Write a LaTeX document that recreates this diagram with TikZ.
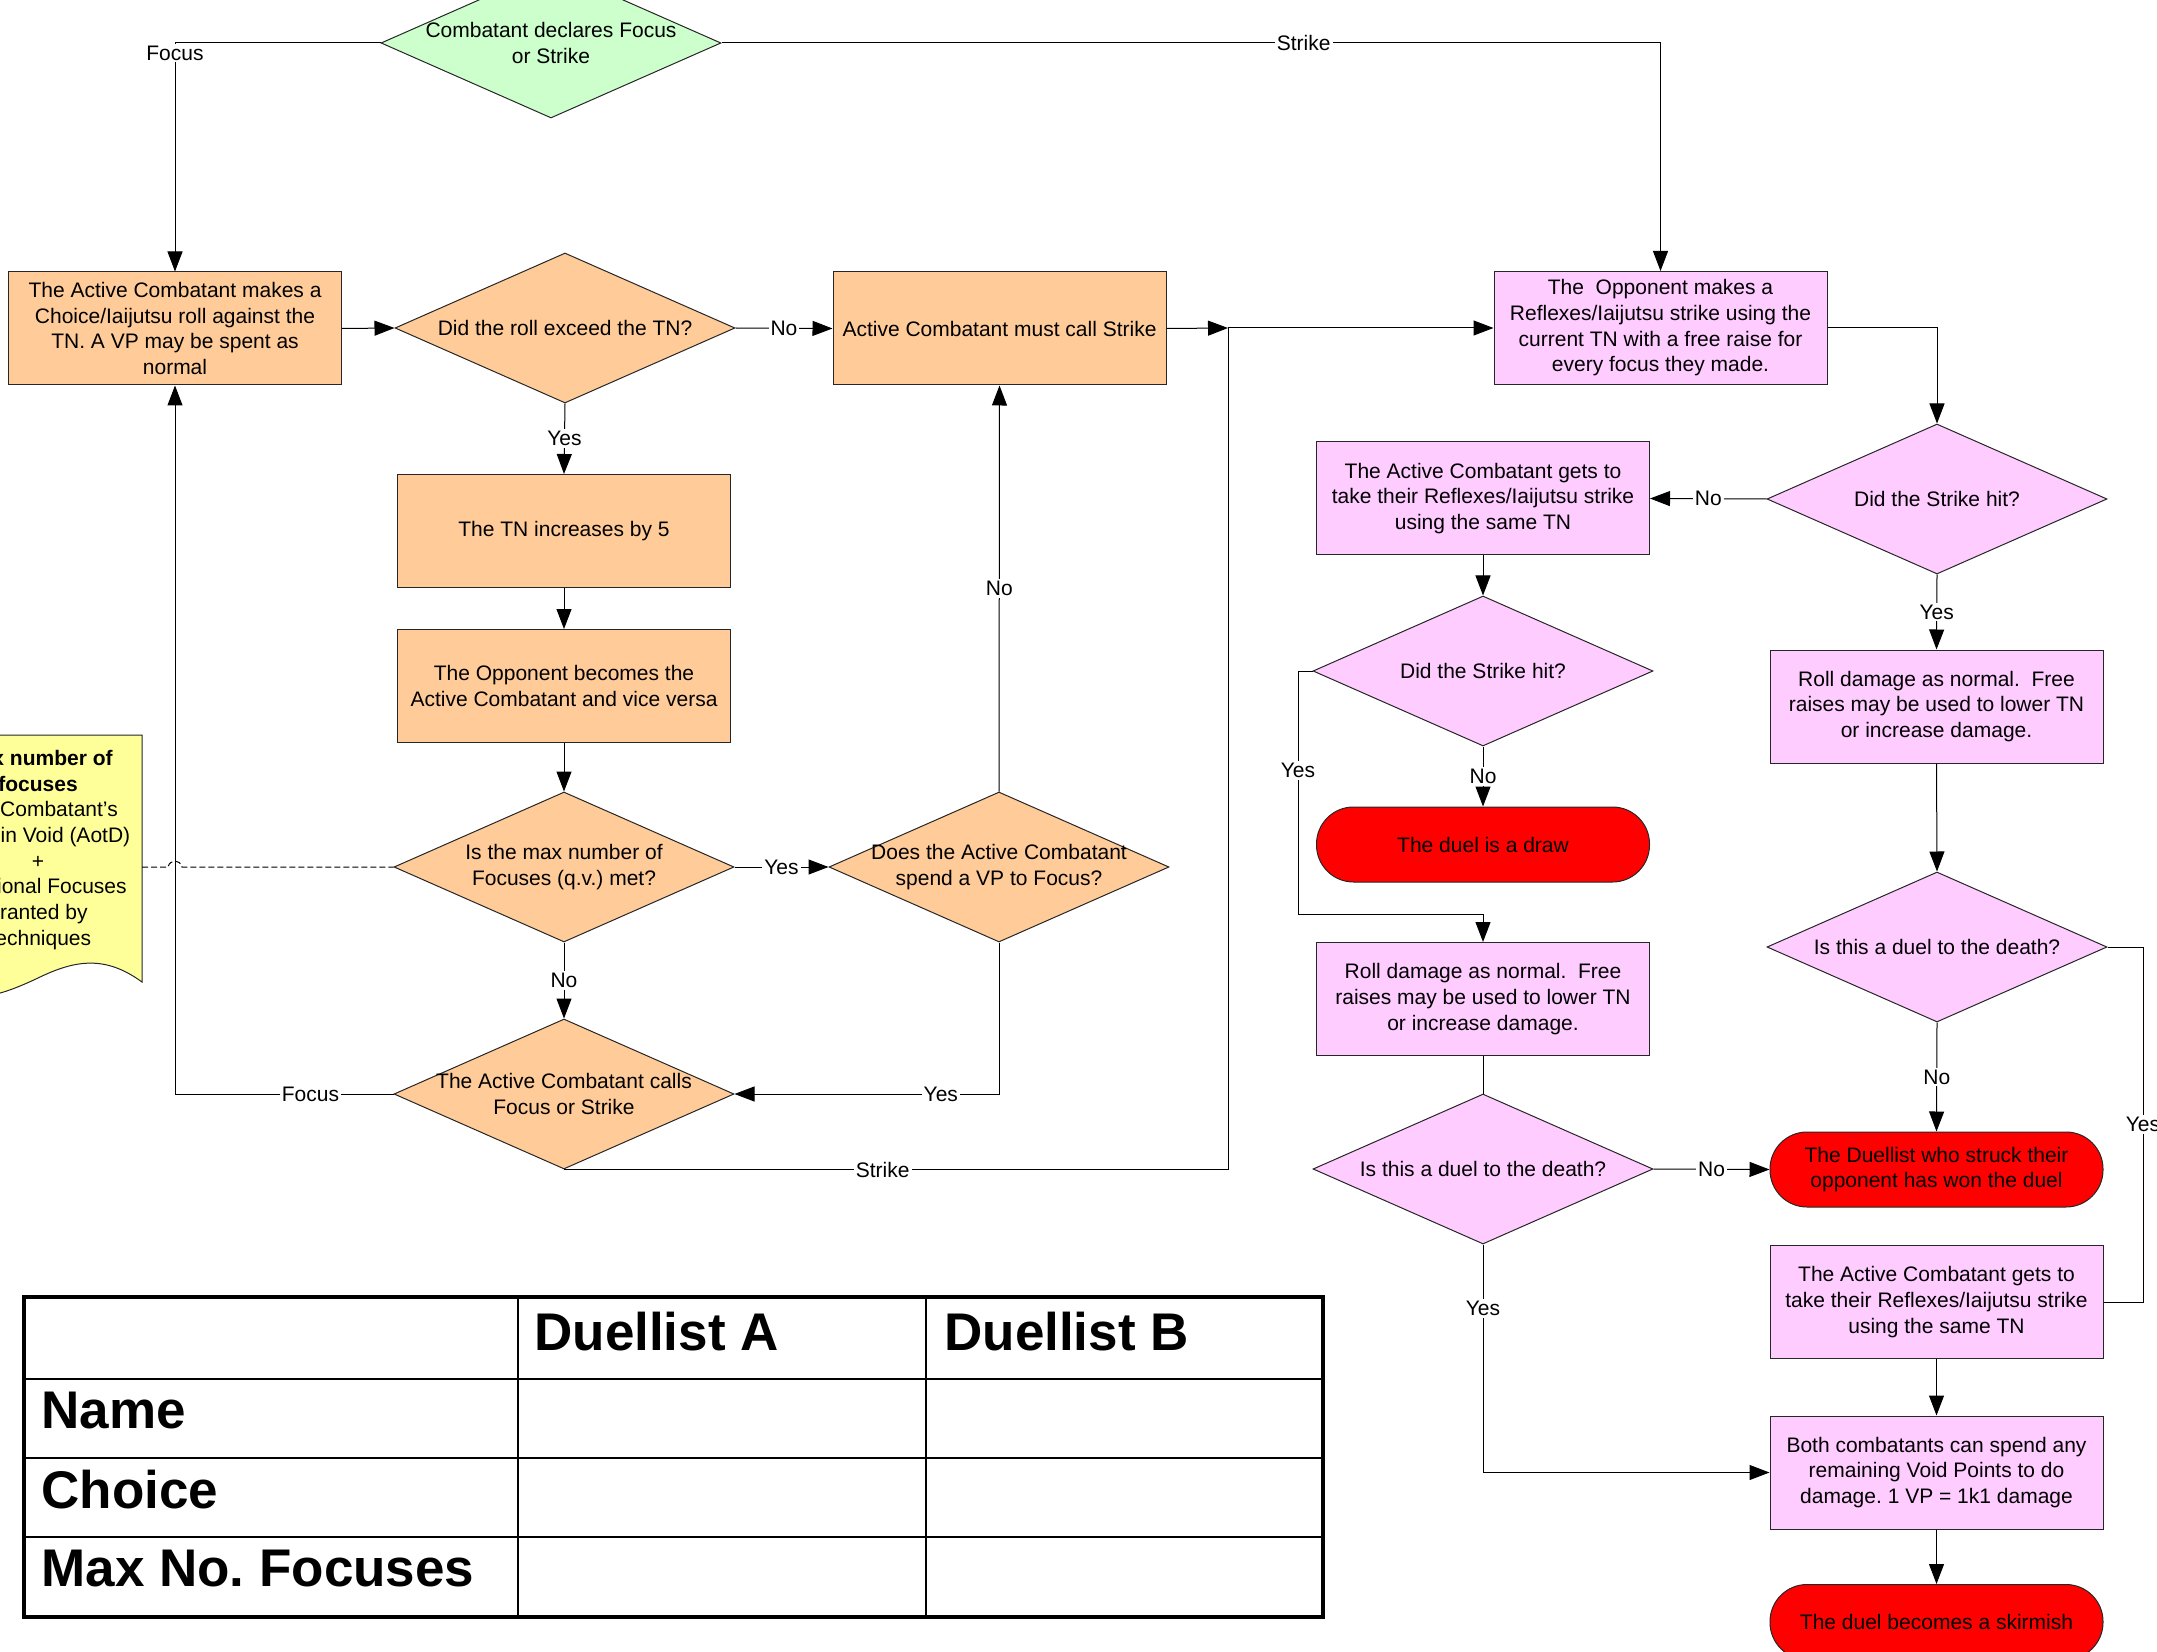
\documentclass[tikz,border=0pt]{standalone}
\usepackage{fontspec}
\setmainfont{Liberation Sans}
\usetikzlibrary{shapes.geometric,arrows.meta}
\definecolor{orng}{RGB}{255,204,153}
\definecolor{pnk}{RGB}{255,204,255}
\definecolor{grn}{RGB}{204,255,204}
\definecolor{ylw}{RGB}{255,255,153}
\definecolor{tred}{RGB}{255,0,0}
\newcommand\Dia[4]{\node[dia,fill=#3] (#1) at (#2) {}; \node[dtxt] (#1t) at (#1) {#4};}
\frenchspacing
\begin{document}
\begin{tikzpicture}[x=0.5pt,y=-0.5pt,
 txt/.style={font=\fontsize{10.5}{12.85}\selectfont, align=center},
 box/.style={txt, draw=black!85, line width=0.5pt, minimum width=166.5pt, minimum height=56.5pt, inner sep=2pt},
 dia/.style={diamond, draw=black!85, line width=0.5pt, minimum width=170pt, minimum height=75pt, inner sep=0pt},
 dtxt/.style={txt, inner sep=0pt},
 term/.style={txt, draw=black!85, line width=0.5pt, fill=tred, rounded corners=18.5pt, minimum width=166.5pt, minimum height=37.5pt},
 conn/.style={line width=0.5pt, draw=black},
 arr/.style={conn, -{Triangle[length=10pt,width=7.5pt]}},
 lbl/.style={txt, fill=white, inner sep=1pt},
 tbl/.style={font=\bfseries\fontsize{26.5}{30}\selectfont, anchor=base west, inner sep=0pt}
 ]
\useasboundingbox (0,0) rectangle (2157,1652);

% note
\filldraw[fill=ylw, draw=black!85, line width=0.5pt] (-66,735) -- (142,735) -- (142,982)
  .. controls (105,955) and (75,960) .. (38,978)
  .. controls (0,996) and (-30,1005) .. (-66,990) -- cycle;
\node[txt] (note) at (38,850) {\textbf{Max number of}\\\textbf{focuses}\\The Combatant’s\\Rank in Void (AotD)\\+\\Additional Focuses\\granted by\\Techniques};
\coordinate (nr) at (142,867);

% nodes
\Dia{d0}{551,43}{grn}{Combatant declares Focus\\or Strike}
\node[box, fill=orng] (b1) at (175,328.5) {The Active Combatant makes a\\Choice/Iaijutsu roll against the\\TN. A VP may be spent as\\normal};
\Dia{d1}{565,328}{orng}{Did the roll exceed the TN?}
\node[box, fill=orng] (b2) at (999.5,328.5) {Active Combatant must call Strike};
\coordinate (J) at (1228,328);
\node[box, fill=pnk] (b3) at (1660.5,328) {The\ \ Opponent makes a\\Reflexes/Iaijutsu strike using the\\current TN with a free raise for\\every focus they made.};
\Dia{d2}{1937,499}{pnk}{Did the Strike hit?}
\node[box, fill=pnk] (b4) at (1483,498.5) {The Active Combatant gets to\\take their Reflexes/Iaijutsu strike\\using the same TN};
\node[box, fill=pnk] (b5) at (1936.5,706.5) {Roll damage as normal.\ \ Free\\raises may be used to lower TN\\or increase damage.};
\Dia{d3}{1483,671}{pnk}{Did the Strike hit?}
\node[term] (t1) at (1483,844.5) {The duel is a draw};
\node[box, fill=pnk] (b6) at (1483,999) {Roll damage as normal.\ \ Free\\raises may be used to lower TN\\or increase damage.};
\Dia{d4}{1483,1169}{pnk}{Is this a duel to the death?}
\node[term] (t2) at (1936.5,1169.5) {The Duellist who struck their\\opponent has won the duel};
\Dia{d5}{1937,947}{pnk}{Is this a duel to the death?}
\node[box, fill=pnk] (b7) at (1936.5,1302) {The Active Combatant gets to\\take their Reflexes/Iaijutsu strike\\using the same TN};
\node[box, fill=pnk] (b8) at (1936.5,1472.5) {Both combatants can spend any\\remaining Void Points to do\\damage. 1 VP = 1k1 damage};
\node[term] (t3) at (1936.5,1622) {The duel becomes a skirmish};
\node[box, fill=orng] (b9) at (564,531) {The TN increases by 5};
\node[box, fill=orng] (b10) at (564,686) {The Opponent becomes the\\Active Combatant and vice versa};
\Dia{d6}{564,867}{orng}{Is the max number of\\Focuses (q.v.) met?}
\Dia{d7}{999,867}{orng}{Does the Active Combatant\\spend a VP to Focus?}
\Dia{d8}{564,1094}{orng}{The Active Combatant calls\\Focus or Strike}

% connectors
\draw[arr] (d0.west) -| node[lbl,pos=0.5,yshift=-5pt]{Focus} (b1.north);
\draw[arr] (d0.east) -| node[lbl,pos=0.31]{Strike} (b3.north);
\draw[arr] (b1.east) -- (d1.west);
\draw[arr] (d1.east) -- node[lbl]{No} (b2.west);
\draw[arr] (b2.east) -- (J);
\draw[arr] (J) -- (b3.west);
\draw[arr] (d1.south) -- node[lbl]{Yes} (b9.north);
\draw[arr] (b9.south) -- (b10.north);
\draw[arr] (b10.south) -- (d6.north);
\draw[arr] (d6.east) -- node[lbl]{Yes} (d7.west);
\draw[arr] (d7.north) -- node[lbl]{No} (b2.south);
\draw[arr] (d7.south) |- node[lbl,pos=0.61]{Yes} (d8.east);
\draw[arr] (d6.south) -- node[lbl]{No} (d8.north);
\draw[arr] (d8.west) -| node[lbl,pos=0.19]{Focus} (b1.south);
\draw[conn] (d8.south) -| node[lbl,pos=0.24]{Strike} (J);
\draw[arr] (b3.east) -| (d2.north);
\draw[arr] (d2.west) -- node[lbl]{No} (b4.east);
\draw[arr] (d2.south) -- node[lbl]{Yes} (b5.north);
\draw[arr] (b4.south) -- (d3.north);
\draw[arr] (d3.south) -- node[lbl]{No} (t1.north);
\draw[arr] (d3.west) -- (1298,671) -- node[lbl,pos=0.41]{Yes} (1298,914) -| (b6.north);
\draw[conn] (b6.south) -- (d4.north);
\draw[arr] (d4.east) -- node[lbl]{No} (t2.west);
\draw[arr] (d4.south) |- node[lbl,pos=0.14]{Yes} (b8.west);
\draw[arr] (b5.south) -- (d5.north);
\draw[arr] (d5.south) -- node[lbl]{No} (t2.north);
\draw[conn] (d5.east) -- (2143,947) -- node[lbl]{Yes} (2143,1302) -- (b7.east);
\draw[arr] (b7.south) -- (b8.north);
\draw[arr] (b8.south) -- (t3.north);
\draw[conn, dash pattern=on 3pt off 1.5pt] (nr) -- (168,867) .. controls (170,859) and (180,859) .. (182,867) -- (d6.west);

% table
\draw[line width=1pt] (518,1297) -- (518,1617) (926,1297) -- (926,1617)
  (24,1379) -- (1323,1379) (24,1458) -- (1323,1458) (24,1537) -- (1323,1537);
\draw[line width=2pt] (24,1297) rectangle (1323,1617);
\node[tbl] (ta) at (534,1350) {Duellist A};
\node[tbl] (tb) at (944,1350) {Duellist B};
\node[tbl] (tn) at (41,1428) {Name};
\node[tbl] (tc) at (41,1508) {Choice};
\node[tbl] (tm) at (41,1586) {Max No. Focuses};
\end{tikzpicture}
\end{document}
